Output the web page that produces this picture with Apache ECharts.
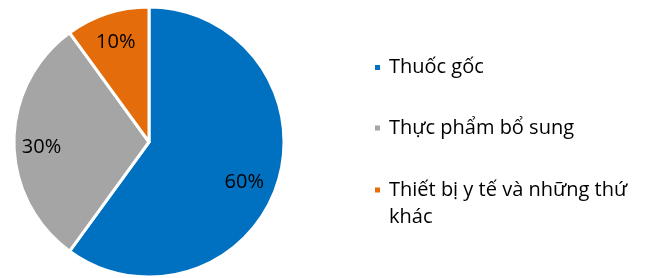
<!DOCTYPE html>
<html>
<head>
<meta charset="utf-8">
<script src="https://cdn.jsdelivr.net/npm/echarts@6/dist/echarts.min.js"></script>
<style>
  html, body { margin: 0; padding: 0; background: #fff; }
  #chart { width: 647px; height: 278px; }
</style>
</head>
<body>
<div id="chart"></div>
<script>
// categories & values
var categories = ['Thuốc gốc', 'Thực phẩm bổ sung', 'Thiết bị y tế và những thứ khác'];
var values = [60, 30, 10];
var colors = ['#0070C0', '#A5A5A5', '#E46C0A'];
var legendTops = [54, 114.5, 149.5];

var font = 'Open Sans';
var pieData = categories.map(function (name, i) {
  return { name: name, value: values[i], itemStyle: { color: colors[i] } };
});

var legendStyle = {
  fontFamily: font,
  fontSize: 20,
  color: '#000',
  lineHeight: 27,
  padding: [0, 0, 0, 3]
};

var legends = categories.map(function (name, i) {
  var fmt = '{name}';
  if (i === 2) {
    // last word on its own line; empty first line keeps the icon on the first text line
    fmt = function (n) {
      var k = n.lastIndexOf(' ');
      return '\n' + n.slice(0, k) + '\n' + n.slice(k + 1);
    };
  }
  return {
    orient: 'vertical',
    left: 373,
    top: legendTops[i],
    padding: 0,
    icon: 'rect',
    itemWidth: 7,
    itemHeight: 7,
    selectedMode: false,
    formatter: fmt,
    data: [name],
    textStyle: legendStyle
  };
});

var chart = echarts.init(document.getElementById('chart'), null, { renderer: 'canvas' });
chart.setOption({
  animation: false,
  legend: legends,
  series: [
    {
      type: 'pie',
      center: [149, 142],
      radius: [0, 135],
      startAngle: 90,
      clockwise: true,
      data: pieData,
      itemStyle: { borderColor: '#fff', borderWidth: 3 },
      label: { show: false },
      labelLine: { show: false },
      emphasis: { disabled: true }
    },
    {
      // label-only ring to place percentages at ~3/4 radius
      type: 'pie',
      center: [149, 142],
      radius: [74, 135],
      startAngle: 90,
      clockwise: true,
      silent: true,
      data: pieData.map(function (d) {
        return { name: d.name, value: d.value, itemStyle: { color: 'rgba(0,0,0,0)' } };
      }),
      label: {
        show: true,
        position: 'inside',
        formatter: '{c}%',
        fontFamily: font,
        fontSize: 20,
        color: '#000'
      },
      labelLayout: function (p) {
        return { dx: [-7, 0, 0][p.dataIndex], dy: [7, 5, 3][p.dataIndex] };
      },
      labelLine: { show: false },
      emphasis: { disabled: true }
    }
  ]
});
</script>
</body>
</html>
